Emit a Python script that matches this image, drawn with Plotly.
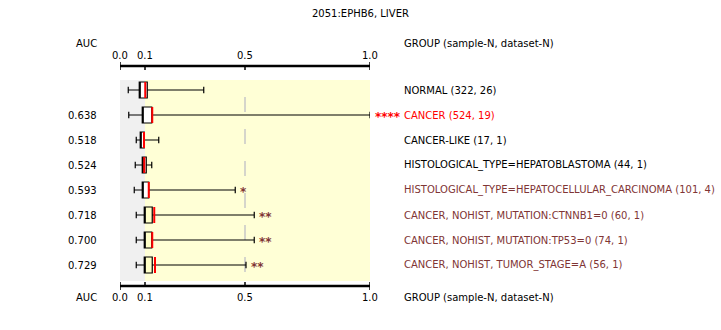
import plotly.graph_objects as go

# ---- data ----
groups = [
    "NORMAL (322, 26)",
    "CANCER (524, 19)",
    "CANCER-LIKE (17, 1)",
    "HISTOLOGICAL_TYPE=HEPATOBLASTOMA (44, 1)",
    "HISTOLOGICAL_TYPE=HEPATOCELLULAR_CARCINOMA (101, 4)",
    "CANCER, NOHIST, MUTATION:CTNNB1=0 (60, 1)",
    "CANCER, NOHIST, MUTATION:TP53=0 (74, 1)",
    "CANCER, NOHIST, TUMOR_STAGE=A (56, 1)",
]
auc = ["", "0.638", "0.518", "0.524", "0.593", "0.718", "0.700", "0.729"]
stars = ["", "****", "", "", "*", "**", "**", "**"]
lower = [0.033, 0.035, 0.065, 0.061, 0.057, 0.065, 0.065, 0.065]
q1 = [0.077, 0.089, 0.081, 0.089, 0.089, 0.097, 0.097, 0.097]
median = [0.101, 0.129, 0.096, 0.097, 0.115, 0.137, 0.129, 0.140]
q3 = [0.109, 0.127, 0.097, 0.105, 0.115, 0.129, 0.127, 0.129]
upper = [0.335, 1.000, 0.155, 0.127, 0.461, 0.537, 0.537, 0.504]
label_colors = ["#000000", "#ff0000", "#000000", "#000000",
                "#7f3535", "#7f3535", "#7f3535", "#7f3535"]
box_fill = ["#ffffff", "#ffffff", "#ffffff", "#ffffff", "#ffffff",
            "#ffffc8", "#ffffc8", "#ffffc8"]
axis_ticks = [0.0, 0.1, 0.5, 1.0]
axis_ticklabels = ["0.0", "0.1", "0.5", "1.0"]
title = "2051:EPHB6, LIVER"

# ---- layout geometry (pixels) ----
W, H = 721, 330
L, R = 120, 370           # x=0 and x=1
T, B = 80, 281            # plot area top / bottom
FONT = "DejaVu Sans"
FS = 10

def py(p):  # pixel y -> paper y
    return (B - p) / (B - T)

def px(p):  # pixel x -> paper x
    return (p - L) / (R - L)

fig = go.Figure()

# boxes
for i in range(len(groups)):
    q1v, q3v = min(q1[i], q3[i]), max(q1[i], q3[i])
    fig.add_trace(go.Box(
        orientation="h", y=[i], q1=[q1v], median=[q1v], q3=[q3v],
        lowerfence=[lower[i]], upperfence=[upper[i]],
        width=0.64, whiskerwidth=0.4, fillcolor=box_fill[i],
        line=dict(color="black", width=1.2), boxpoints=False,
        hoverinfo="skip", showlegend=False,
    ))

# red median lines
mx, my = [], []
for i, m in enumerate(median):
    mx += [m, m, None]
    my += [i - 0.32, i + 0.32, None]
fig.add_trace(go.Scatter(x=mx, y=my, mode="lines",
                         line=dict(color="red", width=2),
                         hoverinfo="skip", showlegend=False))

shapes = [
    dict(type="rect", xref="x", yref="paper", x0=0, x1=0.1, y0=0, y1=1,
         fillcolor="#f0f0f0", line_width=0, layer="below"),
    dict(type="rect", xref="x", yref="paper", x0=0.1, x1=1.0, y0=0, y1=1,
         fillcolor="#ffffd6", line_width=0, layer="below"),
    dict(type="line", xref="x", yref="paper", x0=0.5, x1=0.5,
         y0=py(272), y1=py(96),
         line=dict(color="#c8c8c8", width=1.5, dash="15px,17px"), layer="below"),
]
annotations = []

# top and bottom axes
for yl, ylab, side in [(66, 55, "top"), (286, 297, "bottom")]:
    shapes.append(dict(type="line", xref="x", yref="paper", x0=0, x1=1,
                       y0=py(yl), y1=py(yl), line=dict(color="black", width=2.5)))
    for t, tl in zip(axis_ticks, axis_ticklabels):
        end = t in (0.0, 1.0)
        if side == "top":
            ya, yb = (yl - 4, yl + 4) if end else (yl, yl + 4)
        else:
            ya, yb = (yl - 4, yl + 4) if end else (yl - 4, yl)
        shapes.append(dict(type="line", xref="x", yref="paper", x0=t, x1=t,
                           y0=py(ya), y1=py(yb), line=dict(color="black", width=1.5)))
        annotations.append(dict(x=t, y=py(ylab), xref="x", yref="paper",
                                text=tl, showarrow=False, xanchor="center",
                                yanchor="middle",
                                font=dict(family=FONT, size=FS, color="black")))
    yt = 44 if side == "top" else 297
    annotations.append(dict(x=px(99), y=py(yt), xref="paper", yref="paper",
                            text="AUC", showarrow=False, xanchor="right",
                            yanchor="middle",
                            font=dict(family=FONT, size=FS, color="black")))
    annotations.append(dict(x=px(402), y=py(yt), xref="paper", yref="paper",
                            text="GROUP (sample-N, dataset-N)", showarrow=False,
                            xanchor="left", yanchor="middle",
                            font=dict(family=FONT, size=FS, color="black")))

for i, g in enumerate(groups):
    annotations.append(dict(x=px(402), y=i, xref="paper", yref="y", text=g,
                            showarrow=False, xanchor="left", yanchor="middle",
                            font=dict(family=FONT, size=FS, color=label_colors[i])))
    if auc[i]:
        annotations.append(dict(x=px(99), y=i, xref="paper", yref="y", text=auc[i],
                                showarrow=False, xanchor="right", yanchor="middle",
                                font=dict(family=FONT, size=FS, color="black")))
    if stars[i]:
        annotations.append(dict(x=upper[i], y=i + 0.08, xref="x", yref="y",
                                text="<b>" + stars[i] + "</b>", showarrow=False,
                                xanchor="left", xshift=3, yanchor="middle",
                                font=dict(family=FONT, size=12,
                                          color="red" if i == 1 else "#7f3535")))

annotations.append(dict(x=px(360), y=py(13), xref="paper", yref="paper",
                        text=title, showarrow=False, xanchor="center",
                        yanchor="middle",
                        font=dict(family=FONT, size=FS, color="black")))

fig.update_layout(
    width=W, height=H,
    margin=dict(l=L, r=W - R, t=T, b=H - B, pad=0),
    paper_bgcolor="white", plot_bgcolor="white",
    boxmode="overlay",
    xaxis=dict(range=[0, 1], showgrid=False, zeroline=False,
               showticklabels=False, ticks="", fixedrange=True),
    yaxis=dict(range=[7.64, -0.4], showgrid=False, zeroline=False,
               showticklabels=False, ticks="", fixedrange=True),
    shapes=shapes, annotations=annotations,
)

fig.write_html("out.html", config={"displayModeBar": False})
